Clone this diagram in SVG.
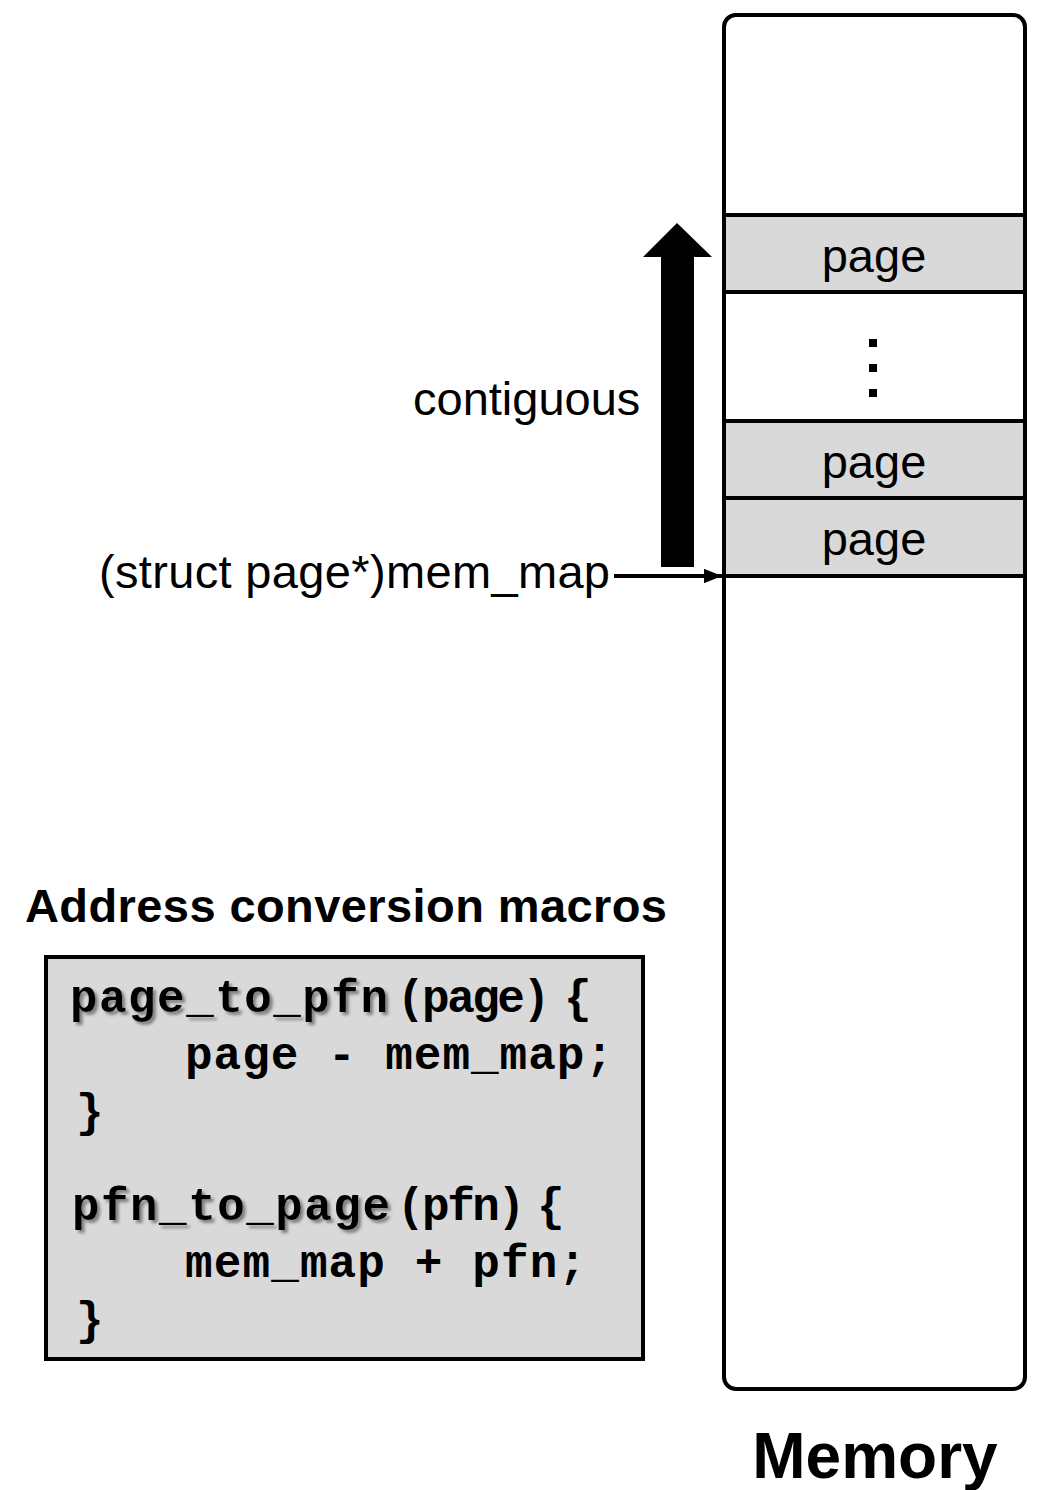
<svg xmlns="http://www.w3.org/2000/svg" width="1055" height="1490" viewBox="0 0 1055 1490">
<style>
.lbl{font-family:"Liberation Sans",Arial,sans-serif;font-size:47px;fill:#000}
.bold{font-family:"Liberation Sans",Arial,sans-serif;font-weight:bold;fill:#000}
.code{font-family:"Liberation Mono","Courier New",monospace;font-weight:bold;font-size:46px;fill:#000}
.page{fill:#d9d9d9;stroke:#000;stroke-width:4}
</style>
<defs>
<filter id="sh" x="-5%" y="-20%" width="115%" height="150%">
<feDropShadow dx="3" dy="3" stdDeviation="1.5" flood-color="#777" flood-opacity="0.9"/>
</filter>
<marker id="ah" markerWidth="4.5" markerHeight="3.6" refX="4.5" refY="1.8" orient="auto" markerUnits="strokeWidth">
<path d="M0,0 L4.5,1.8 L0,3.6 z" fill="#000"/>
</marker>
</defs>
<g id="memory">
<rect x="724" y="15" width="301" height="1374" rx="12" fill="#fff" stroke="#000" stroke-width="4"/>
<rect class="page" x="724" y="215" width="301" height="77"/>
<rect class="page" x="724" y="421" width="301" height="77"/>
<rect class="page" x="724" y="498" width="301" height="78"/>
<text class="lbl" x="874" y="272" text-anchor="middle">page</text>
<text class="lbl" x="874" y="478" text-anchor="middle">page</text>
<text class="lbl" x="874" y="555" text-anchor="middle">page</text>
<rect x="869" y="339" width="8" height="8" fill="#000"/>
<rect x="869" y="364" width="8" height="8" fill="#000"/>
<rect x="869" y="389" width="8" height="8" fill="#000"/>
<text class="bold" x="875" y="1478" font-size="64" text-anchor="middle">Memory</text>
</g>
<g id="connectors">
<polygon points="661,567 694,567 694,257 712,257 677,223 643,257 661,257" fill="#000"/>
<line x1="614" y1="576" x2="722" y2="576" stroke="#000" stroke-width="4" marker-end="url(#ah)"/>
</g>
<g id="labels">
<text class="lbl" x="413" y="415">contiguous</text>
<text class="lbl" x="99" y="588" textLength="511">(struct page*)mem_map</text>
<text class="bold" x="25" y="922" font-size="47" textLength="642">Address conversion macros</text>
</g>
<g id="codebox">
<rect x="46" y="957" width="597" height="402" fill="#d9d9d9" stroke="#000" stroke-width="4"/>
<text class="code" x="70" y="1012" filter="url(#sh)" textLength="318">page_to_pfn</text>
<text class="code" x="397" y="1012" textLength="153">(page)</text>
<text class="code" x="564" y="1012">{</text>
<text class="code" x="185" y="1069" textLength="428" xml:space="preserve">page - mem_map;</text>
<text class="code" x="76" y="1126">}</text>
<text class="code" x="72" y="1220" filter="url(#sh)" textLength="318">pfn_to_page</text>
<text class="code" x="397" y="1220" textLength="128">(pfn)</text>
<text class="code" x="537" y="1220">{</text>
<text class="code" x="185" y="1277" textLength="401" xml:space="preserve">mem_map + pfn;</text>
<text class="code" x="76" y="1334">}</text>
</g>
</svg>
